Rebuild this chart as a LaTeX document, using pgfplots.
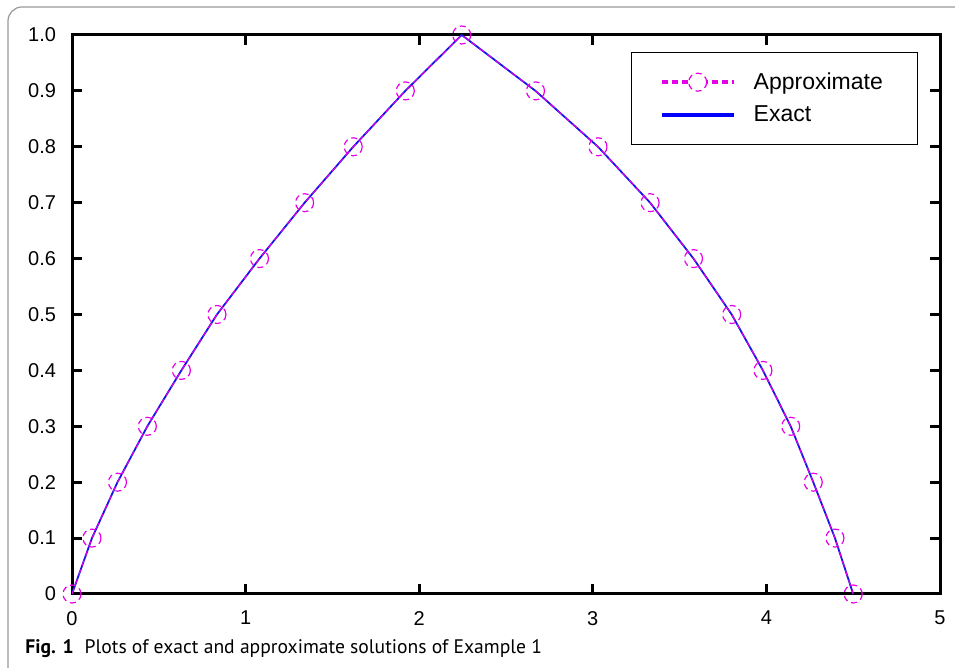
\documentclass[border=0pt]{standalone}
\usepackage{fontspec}
\setmainfont{Liberation Sans}
\newfontfamily\capfont{PT Sans}
\usepackage{pgfplots}
\pgfplotsset{compat=1.18}

\definecolor{approxc}{RGB}{230,0,230}
\definecolor{exactc}{RGB}{20,20,230}

\begin{document}
\begin{tikzpicture}
\useasboundingbox (0,0) rectangle (477.5pt,334pt);
% figure frame (only left/top visible)
\draw[gray!80, line width=0.6pt, rounded corners=7pt] (4pt,-1pt) -- (4pt,330.5pt) -- (490pt,330.5pt);

\begin{axis}[
    at={(36pt,37pt)}, anchor=south west,
    scale only axis,
    width=434pt, height=279.5pt,
    xmin=0, xmax=5, ymin=0, ymax=1,
    xtick={0,1,2,3,4,5},
    ytick={0,0.1,0.2,0.3,0.4,0.5,0.6,0.7,0.8,0.9,1.0},
    yticklabels={0,0.1,0.2,0.3,0.4,0.5,0.6,0.7,0.8,0.9,1.0},
    /pgf/number format/assume math mode=true,
    tick align=inside,
    major tick length=5pt,
    axis line style={line width=1.5pt},
    every tick/.style={black, line width=1.5pt},
    tick label style={font=\fontsize{10}{12}\selectfont},
    xticklabel style={yshift=-5pt},
    yticklabel style={xshift=-4.5pt},
    legend style={at={(0.975,0.970)}, anchor=north east, draw=black, line width=0.6pt,
        inner xsep=14pt, inner ysep=8pt, row sep=3pt,
        font=\fontsize{11.5}{13}\selectfont,
        nodes={inner sep=2pt, text width=66pt, align=left},
        /tikz/every odd column/.append style={column sep=7pt}},
    legend cell align=left,
]
\addplot[exactc, line width=0.9pt, forget plot] coordinates {
 (0,0) (0.115,0.1) (0.262,0.2) (0.434,0.3) (0.63,0.4) (0.835,0.5)
 (1.08,0.6) (1.34,0.7) (1.62,0.8) (1.92,0.9) (2.245,1.0)
 (2.67,0.9) (3.03,0.8) (3.33,0.7) (3.58,0.6) (3.80,0.5)
 (3.98,0.4) (4.14,0.3) (4.27,0.2) (4.395,0.1) (4.50,0)
};
\addplot[approxc, densely dashed, line width=0.5pt, mark=o, mark size=4.5pt,
    mark options={approxc, densely dashed, line width=0.6pt}, forget plot] coordinates {
 (0,0) (0.115,0.1) (0.262,0.2) (0.434,0.3) (0.63,0.4) (0.835,0.5)
 (1.08,0.6) (1.34,0.7) (1.62,0.8) (1.92,0.9) (2.245,1.0)
 (2.67,0.9) (3.03,0.8) (3.33,0.7) (3.58,0.6) (3.80,0.5)
 (3.98,0.4) (4.14,0.3) (4.27,0.2) (4.395,0.1) (4.50,0)
};
\addlegendimage{legend image code/.code={
  \draw[approxc, dash pattern=on 3pt off 2pt, line width=2pt] (0pt,0pt) -- (36pt,0pt);
  \draw[approxc, fill=white, line width=0.6pt, densely dashed] (18pt,0pt) circle (4.5pt);}}
\addlegendentry{Approximate}
\addlegendimage{legend image code/.code={
  \draw[blue, line width=2pt] (0pt,0pt) -- (36pt,0pt);}}
\addlegendentry{Exact}
\end{axis}

\node[anchor=base west, inner sep=0pt, font=\capfont\fontsize{9.8}{11}\selectfont]
  at (12.5pt,7pt) {\textbf{Fig. 1}\hspace{5.5pt}Plots of exact and approximate solutions of Example 1};
\end{tikzpicture}
\end{document}
